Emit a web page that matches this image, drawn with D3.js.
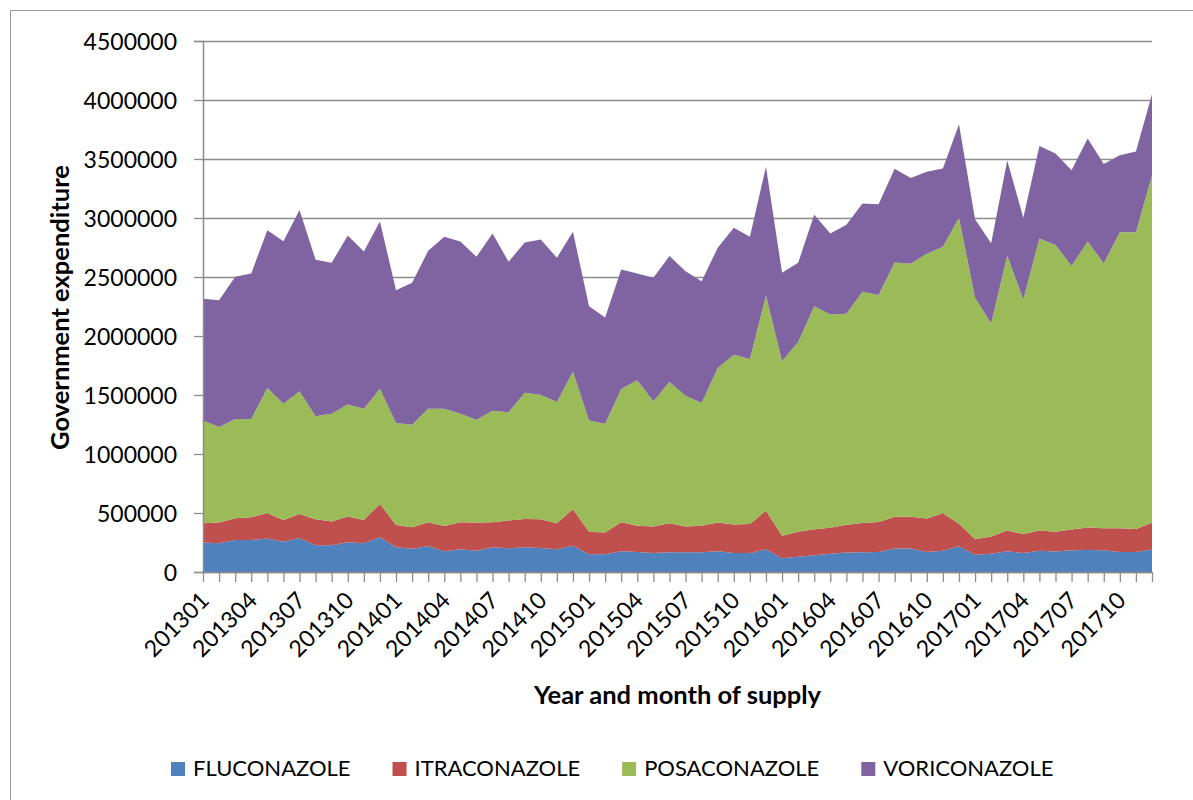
<!DOCTYPE html>
<html>
<head>
<meta charset="utf-8">
<style>
    body { margin: 0; background: #fff; }
    svg text { font-family: Lato, "Open Sans", sans-serif; fill: #000; }
</style>
</head>
<body>
<svg width="1193" height="800"></svg>

<script src="https://d3js.org/d3.v7.min.js"></script>
<script>
// month of supply (yyyymm)
const months = [
    "201301","201302","201303","201304","201305","201306","201307","201308","201309","201310","201311","201312",
    "201401","201402","201403","201404","201405","201406","201407","201408","201409","201410","201411","201412",
    "201501","201502","201503","201504","201505","201506","201507","201508","201509","201510","201511","201512",
    "201601","201602","201603","201604","201605","201606","201607","201608","201609","201610","201611","201612",
    "201701","201702","201703","201704","201705","201706","201707","201708","201709","201710","201711","201712"
]

const drugs = ["FLUCONAZOLE", "ITRACONAZOLE", "POSACONAZOLE", "VORICONAZOLE"]
const colors = ["#4f81bd", "#c0504d", "#9bbb59", "#8064a2"]

const fluconazole = [
    249000,243000,272000,272000,283000,257000,289000,227000,227000,252000,243000,294000,
    210000,198000,221000,176000,193000,181000,210000,201000,210000,204000,193000,223000,
    150000,150000,176000,170000,161000,167000,167000,167000,176000,161000,161000,193000,
    116000,130000,142000,155000,165000,167000,170000,199000,199000,170000,181000,219000,
    146000,155000,175000,161000,181000,173000,184000,187000,184000,170000,170000,190000
]
const itraconazole = [
    164000,176000,184000,192000,215000,184000,203000,220000,200000,218000,198000,283000,
    189000,181000,201000,214000,229000,238000,212000,235000,240000,243000,220000,309000,
    192000,184000,246000,223000,224000,246000,218000,226000,243000,241000,246000,327000,
    192000,212000,220000,219000,236000,248000,254000,269000,269000,283000,316000,190000,
    132000,146000,176000,160000,170000,169000,176000,190000,187000,201000,195000,228000
]
const posaconazole = [
    871000,809000,840000,832000,1061000,985000,1039000,872000,914000,950000,943000,976000,
    863000,869000,962000,994000,919000,871000,945000,917000,1070000,1056000,1027000,1168000,
    942000,922000,1129000,1231000,1061000,1197000,1109000,1039000,1310000,1440000,1398000,1823000,
    1477000,1608000,1890000,1808000,1787000,1961000,1923000,2154000,2145000,2245000,2259000,2593000,
    2046000,1804000,2332000,1988000,2476000,2429000,2233000,2423000,2245000,2508000,2514000,2943000
]
const voriconazole = [
    1031000,1075000,1206000,1234000,1338000,1378000,1536000,1327000,1279000,1432000,1332000,1418000,
    1126000,1203000,1338000,1457000,1460000,1381000,1502000,1276000,1273000,1315000,1223000,1184000,
    968000,900000,1013000,906000,1047000,1067000,1055000,1032000,1019000,1076000,1036000,1092000,
    751000,670000,776000,687000,754000,746000,769000,795000,725000,693000,664000,792000,
    666000,681000,804000,693000,783000,775000,812000,874000,842000,652000,684000,687000
]

const yTicks = [0, 500000, 1000000, 1500000, 2000000, 2500000, 3000000, 3500000, 4000000, 4500000]

// build rows for the stack
let rows = months.map(function (m, i) {
    return {
        month: m,
        FLUCONAZOLE: fluconazole[i],
        ITRACONAZOLE: itraconazole[i],
        POSACONAZOLE: posaconazole[i],
        VORICONAZOLE: voriconazole[i]
    }
})

let svg = d3.select("svg")
let plotLeft = 203, plotRight = 1152, plotTop = 41, plotBottom = 572
let gridColor = "#8c8c8c"

// outer chart frame (only left/top edges visible)
svg.append("rect")
    .attr("x", 10.5).attr("y", 10.5)
    .attr("width", 1300).attr("height", 900)
    .attr("fill", "none")
    .attr("stroke", "#9a9a9a")
    .attr("stroke-width", 1)

let x = d3.scalePoint().domain(months).range([plotLeft, plotRight])
let y = d3.scaleLinear().domain([0, 4500000]).range([plotBottom, plotTop])

// gridlines
svg.append("g")
    .attr("transform", "translate(" + plotLeft + ",0)")
    .call(d3.axisLeft(y).tickValues(yTicks).tickSize(-(plotRight - plotLeft)).tickFormat(""))
    .call(g => g.select(".domain").remove())
    .selectAll("line")
    .attr("stroke", gridColor)
    .attr("stroke-width", 1.3)

// stacked areas
let stack = d3.stack().keys(drugs)
let series = stack(rows)

let area = d3.area()
    .x(d => x(d.data.month))
    .y0(d => y(d[0]))
    .y1(d => y(d[1]))

svg.append("g")
    .selectAll("path")
    .data(series)
    .join("path")
    .attr("d", area)
    .attr("fill", (d, i) => colors[i])

// y axis
let yAxis = svg.append("g")
    .attr("transform", "translate(" + plotLeft + ",0)")
    .call(d3.axisLeft(y).tickValues(yTicks).tickSize(9).tickPadding(17).tickFormat(d3.format("d")))
yAxis.select(".domain").attr("stroke", gridColor).attr("stroke-width", 1.5)
yAxis.selectAll("line").attr("stroke", gridColor).attr("stroke-width", 1.3)
yAxis.selectAll("text").style("font-size", "23px").attr("dy", "0.36em")

// x axis
let xAxis = svg.append("g")
    .attr("transform", "translate(0," + plotBottom + ")")
    .call(d3.axisBottom(x).tickSize(10).tickSizeOuter(0)
        .tickFormat((d, i) => i % 3 === 0 ? d : ""))
xAxis.select(".domain").attr("stroke", gridColor).attr("stroke-width", 1.5)
xAxis.selectAll("line").attr("stroke", gridColor).attr("stroke-width", 1.3)
xAxis.selectAll("text")
    .style("font-size", "23px")
    .attr("x", 0).attr("y", 0).attr("dy", "0.36em")
    .attr("text-anchor", "end")
    .attr("transform", "translate(1,24) rotate(-45)")

// axis titles
svg.append("text")
    .attr("transform", "translate(69," + ((plotTop + plotBottom) / 2 + 1) + ") rotate(-90)")
    .attr("text-anchor", "middle")
    .style("font-size", "25.5px")
    .style("font-weight", "bold")
    .text("Government expenditure")

svg.append("text")
    .attr("x", (plotLeft + plotRight) / 2)
    .attr("y", 704)
    .attr("text-anchor", "middle")
    .style("font-size", "25.5px")
    .style("font-weight", "bold")
    .text("Year and month of supply")

// legend
let legend = svg.append("g").attr("transform", "translate(171,762)")
let lx = 0
drugs.forEach(function (name, i) {
    let item = legend.append("g").attr("transform", "translate(" + lx + ",0)")
    item.append("rect")
        .attr("width", 14).attr("height", 14)
        .attr("fill", colors[i])
    let t = item.append("text")
        .attr("x", 22).attr("y", 14)
        .style("font-size", "22px")
        .text(name)
    lx += 22 + t.node().getComputedTextLength() + 42
})
</script>
</body>
</html>
